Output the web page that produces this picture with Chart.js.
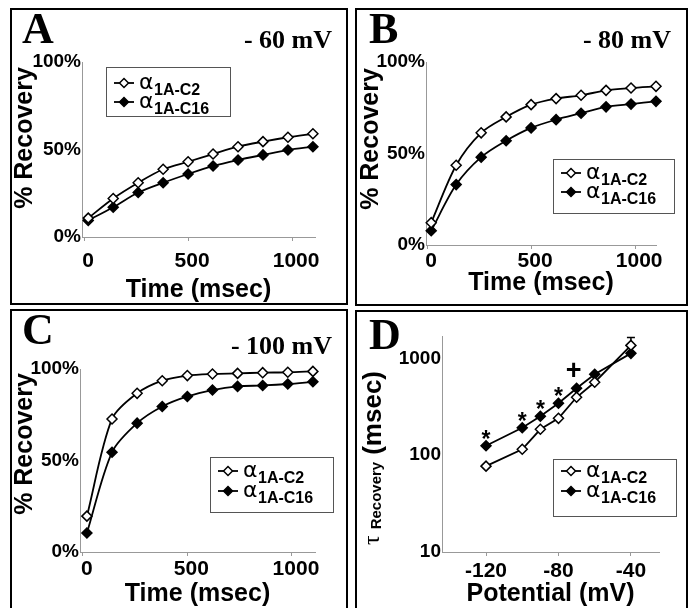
<!DOCTYPE html>
<html>
<head>
<meta charset="utf-8">
<script src="https://cdn.jsdelivr.net/npm/chart.js@4.4.1/dist/chart.umd.min.js"></script>
<style>
  html, body { margin: 0; padding: 0; background: #fff; }
  body { width: 692px; height: 608px; overflow: hidden; position: relative; }
  .panel { position: absolute; border: 2px solid #000; }
  .panel canvas { position: absolute; left: 0; top: 0; }
</style>
</head>
<body>
<div class="panel" style="left:10px;top:8px;width:334px;height:293px"><canvas id="chartA" width="334" height="293"></canvas></div>
<div class="panel" style="left:355px;top:8px;width:329px;height:294px"><canvas id="chartB" width="329" height="294"></canvas></div>
<div class="panel" style="left:10px;top:309px;width:334px;height:297px"><canvas id="chartC" width="334" height="297"></canvas></div>
<div class="panel" style="left:355px;top:310px;width:329px;height:296px"><canvas id="chartD" width="329" height="296"></canvas></div>

<script>
// ---- data ----
// recovery time points (msec), same for panels A-C
const times = [20, 140, 260, 380, 500, 620, 740, 860, 980, 1100];

// % recovery at -60 mV
const recA_C2 = [10.8, 22, 31, 38.7, 43, 47.4, 51.6, 54.5, 57, 59];
const recA_C16 = [9.5, 17, 25.4, 31, 36, 40.6, 44, 46.9, 49.7, 51.6];
// % recovery at -80 mV
const recB_C2 = [12.2, 43.6, 61.3, 70, 76.7, 80, 81.8, 84.5, 85.8, 86.7];
const recB_C16 = [7.8, 33, 48, 57, 64, 68.5, 72, 75.5, 77, 78.5];
// % recovery at -100 mV
const recC_C2 = [19.6, 72.7, 86.7, 93.6, 96.4, 97.3, 97.6, 98, 98.2, 98.7];
const recC_C16 = [10.4, 54.5, 70.4, 79.5, 85, 88.5, 90.5, 91, 91.8, 93];

// tau of recovery (msec) vs potential (mV)
const potentials = [-120, -100, -90, -80, -70, -60, -40];
const tauC2 = [77, 115, 185, 240, 396, 566, 1360];
const tauC16 = [125, 192, 252, 344, 491, 684, 1125];
const tauC2ErrHi = [null, null, null, null, null, null, 1645];
const sigMarks = ['*', '*', '*', '*', '+', '', ''];

const seriesNames = ['1A-C2', '1A-C16'];
const markerFill = ['#fff', '#000'];

const timeTicks = [0, 500, 1000];
const recoveryTicks = [0, 50, 100];
const potentialTicks = [-120, -80, -40];
const tauTicks = [10, 100, 1000];

const SANS = '"Liberation Sans", Arial, sans-serif';
const SERIF = '"Liberation Serif", "Times New Roman", serif';

Chart.defaults.font.family = SANS;
Chart.defaults.font.weight = 'bold';
Chart.defaults.color = '#000';

/**
 * letter, voltage, y title and the alpha legend of each panel
 */
const decoPlugin = {
  id: 'deco',
  afterDraw(chart, args, o) {
    const ctx = chart.ctx;
    ctx.save();
    ctx.fillStyle = '#000';
    ctx.textBaseline = 'alphabetic';
    ctx.textAlign = 'left';
    ctx.font = 'bold 44px ' + SERIF;
    ctx.fillText(o.letter, o.letterAt[0], o.letterAt[1]);
    if (o.volt) {
      ctx.textAlign = 'right';
      ctx.font = 'bold 26px ' + SERIF;
      ctx.fillText(o.volt, o.voltAt[0], o.voltAt[1]);
    }
    if (o.yTitle) {
      ctx.save();
      ctx.translate(o.yTitleAt[0], o.yTitleAt[1]);
      ctx.rotate(-Math.PI / 2);
      ctx.textAlign = 'center';
      ctx.textBaseline = 'middle';
      ctx.font = 'bold 25px ' + SANS;
      ctx.fillText(o.yTitle, 0, 0);
      ctx.restore();
    }

    const b = o.box;
    ctx.fillStyle = '#fff';
    ctx.fillRect(b.x, b.y, b.w, b.h);
    ctx.strokeStyle = '#555';
    ctx.lineWidth = 1;
    ctx.strokeRect(b.x + 0.5, b.y + 0.5, b.w, b.h);
    seriesNames.forEach((name, i) => {
      const y = b.y + b.rows[i];
      ctx.strokeStyle = '#000';
      ctx.lineWidth = 1.8;
      ctx.beginPath();
      ctx.moveTo(b.x + 8, y);
      ctx.lineTo(b.x + 28, y);
      ctx.stroke();
      // diamond marker
      const cx = b.x + 18, r = 4.5;
      ctx.beginPath();
      ctx.moveTo(cx - r, y);
      ctx.lineTo(cx, y - r);
      ctx.lineTo(cx + r, y);
      ctx.lineTo(cx, y + r);
      ctx.closePath();
      ctx.fillStyle = markerFill[i];
      ctx.fill();
      ctx.lineWidth = 1.5;
      ctx.stroke();
      ctx.fillStyle = '#000';
      ctx.textAlign = 'left';
      ctx.font = '22px "DejaVu Sans", sans-serif';
      ctx.fillText('α', b.x + 33, y + 6);
      ctx.font = 'bold 16px ' + SANS;
      ctx.fillText(name, b.x + 48, y + 12);
    });
    ctx.restore();
  }
};

/**
 * panel D: error bar, significance marks, tau title
 */
const tauExtras = {
  id: 'tauExtras',
  beforeDatasetsDraw(chart) {
    const { ctx, scales: { x, y } } = chart;
    ctx.save();
    ctx.strokeStyle = '#000';
    ctx.lineWidth = 1.5;
    tauC2ErrHi.forEach((hi, i) => {
      if (hi == null) return;
      const px = x.getPixelForValue(potentials[i]);
      const y0 = y.getPixelForValue(tauC2[i]);
      const y1 = y.getPixelForValue(hi);
      ctx.beginPath();
      ctx.moveTo(px, y0);
      ctx.lineTo(px, y1);
      ctx.moveTo(px - 4, y1);
      ctx.lineTo(px + 4, y1);
      ctx.stroke();
    });
    ctx.restore();
  },
  afterDatasetsDraw(chart) {
    const { ctx, scales: { x, y } } = chart;
    ctx.save();
    ctx.fillStyle = '#000';
    ctx.textAlign = 'center';
    ctx.textBaseline = 'alphabetic';
    sigMarks.forEach((m, i) => {
      if (!m) return;
      const px = x.getPixelForValue(potentials[i]);
      const py = y.getPixelForValue(tauC16[i]);
      if (m === '*') {
        ctx.font = 'bold 23px ' + SANS;
        ctx.fillText(m, px, py + 1);
      } else {
        ctx.font = 'bold 27px ' + SANS;
        ctx.fillText(m, px - 3, py - 9);
      }
    });
    ctx.restore();
  },
  afterDraw(chart, args, o) {
    const ctx = chart.ctx;
    ctx.save();
    ctx.translate(o.titleAt[0], o.titleAt[1]);
    ctx.rotate(-Math.PI / 2);
    ctx.fillStyle = '#000';
    ctx.textAlign = 'left';
    ctx.textBaseline = 'alphabetic';
    let px = 0;
    ctx.font = '24px ' + SERIF;
    ctx.fillText('τ', px, -2);
    px += ctx.measureText('τ').width + 6;
    ctx.font = 'bold 15px ' + SANS;
    ctx.fillText('Recovery', px, 0);
    px += ctx.measureText('Recovery').width + 7;
    ctx.font = 'bold 26px ' + SANS;
    ctx.fillText('(msec)', px, 0);
    ctx.restore();
  }
};

function lineSets(xs, c2, c16, tension) {
  return [c2, c16].map((vals, i) => ({
    label: seriesNames[i],
    data: xs.map((x, k) => ({ x: x, y: vals[k] })),
    borderColor: '#000',
    borderWidth: 1.8,
    tension: tension,
    pointStyle: 'rectRot',
    pointRadius: 5,
    pointBorderWidth: 1.5,
    pointBorderColor: '#000',
    pointBackgroundColor: markerFill[i],
    fill: false,
    clip: false,
  }));
}

const axisLine = { color: '#999', width: 1 };

function makePanel(id, p) {
  return new Chart(document.getElementById(id), {
    type: 'line',
    data: { datasets: p.datasets },
    options: {
      responsive: false,
      animation: false,
      events: [],
      layout: { padding: { left: 0, top: p.top, right: p.right, bottom: 0 } },
      plugins: {
        legend: { display: false },
        tooltip: { enabled: false },
        deco: p.deco,
        tauExtras: p.extras || {},
      },
      scales: {
        x: {
          type: 'linear',
          min: p.xMin,
          max: p.xMax,
          afterBuildTicks: (s) => { s.ticks = p.xTicks.map((v) => ({ value: v })); },
          afterFit: (s) => { s.height = p.xHeight; },
          border: axisLine,
          grid: { drawOnChartArea: false, drawTicks: true, tickLength: 4, color: '#999' },
          ticks: { font: { size: p.xFont }, padding: p.xPad, labelOffset: p.xShift || 0, maxRotation: 0, autoSkip: false, callback: (v) => String(v) },
          title: { display: true, text: p.xTitle, font: { size: 25, lineHeight: 1 }, padding: { top: 0, bottom: p.xTitlePad } },
        },
        y: {
          type: p.yType,
          min: p.yMin,
          max: p.yMax,
          afterBuildTicks: (s) => { s.ticks = p.yTicks.map((v) => ({ value: v })); },
          afterFit: (s) => { s.width = p.yWidth; },
          border: axisLine,
          grid: { drawOnChartArea: false, drawTicks: false },
          ticks: { font: { size: 19 }, padding: 1, autoSkip: false, callback: p.yLabel },
          title: { display: false },
        },
      },
    },
    plugins: p.extras ? [decoPlugin, tauExtras] : [decoPlugin],
  });
}

const pct = (v) => v + '%';

makePanel('chartA', {
  datasets: lineSets(times, recA_C2, recA_C16, 0.3),
  top: 52, right: 31, xHeight: 66, yWidth: 70,
  xMin: -10, xMax: 1110, xTicks: timeTicks, xFont: 21, xPad: 8, xShift: 4, xTitle: 'Time (msec)', xTitlePad: 0,
  yType: 'linear', yMin: 0, yMax: 100, yTicks: recoveryTicks, yLabel: pct,
  deco: { letter: 'A', letterAt: [10, 33], volt: '- 60 mV', voltAt: [320, 38],
          yTitle: '% Recovery', yTitleAt: [13, 128],
          box: { x: 94, y: 57, w: 124, h: 49, rows: [16, 35] } },
});

makePanel('chartB', {
  datasets: lineSets(times, recB_C2, recB_C16, 0.3),
  top: 52, right: 30, xHeight: 59, yWidth: 69,
  xMin: -5, xMax: 1100, xTicks: timeTicks, xFont: 21, xPad: 0, xShift: 4, xTitle: 'Time (msec)', xTitlePad: 8,
  yType: 'linear', yMin: 0, yMax: 100, yTicks: recoveryTicks, yLabel: pct,
  deco: { letter: 'B', letterAt: [12, 33], volt: '- 80 mV', voltAt: [314, 38],
          yTitle: '% Recovery', yTitleAt: [14, 129],
          box: { x: 196, y: 149, w: 121, h: 54, rows: [14, 33] } },
});

makePanel('chartC', {
  datasets: lineSets(times, recC_C2, recC_C16, 0.3),
  top: 58, right: 31, xHeight: 56, yWidth: 68,
  xMin: -13, xMax: 1110, xTicks: timeTicks, xFont: 21, xPad: 1, xShift: 4, xTitle: 'Time (msec)', xTitlePad: 1,
  yType: 'linear', yMin: 0, yMax: 100, yTicks: recoveryTicks, yLabel: pct,
  deco: { letter: 'C', letterAt: [10, 33], volt: '- 100 mV', voltAt: [320, 43],
          yTitle: '% Recovery', yTitleAt: [13, 133],
          box: { x: 198, y: 146, w: 123, h: 55, rows: [14, 34] } },
});

makePanel('chartD', {
  datasets: lineSets(potentials, tauC2, tauC16, 0),
  top: 24, right: 27, xHeight: 56, yWidth: 85,
  xMin: -144.3, xMax: -24.5, xTicks: potentialTicks, xFont: 21, xPad: 3, xTitle: 'Potential (mV)', xTitlePad: 1,
  yType: 'logarithmic', yMin: 10, yMax: 1700, yTicks: tauTicks, yLabel: (v) => String(v),
  deco: { letter: 'D', letterAt: [12, 37], volt: '', voltAt: [0, 0],
          box: { x: 196, y: 147, w: 123, h: 57, rows: [12, 32] } },
  extras: { titleAt: [24, 233] },
});
</script>
</body>
</html>
